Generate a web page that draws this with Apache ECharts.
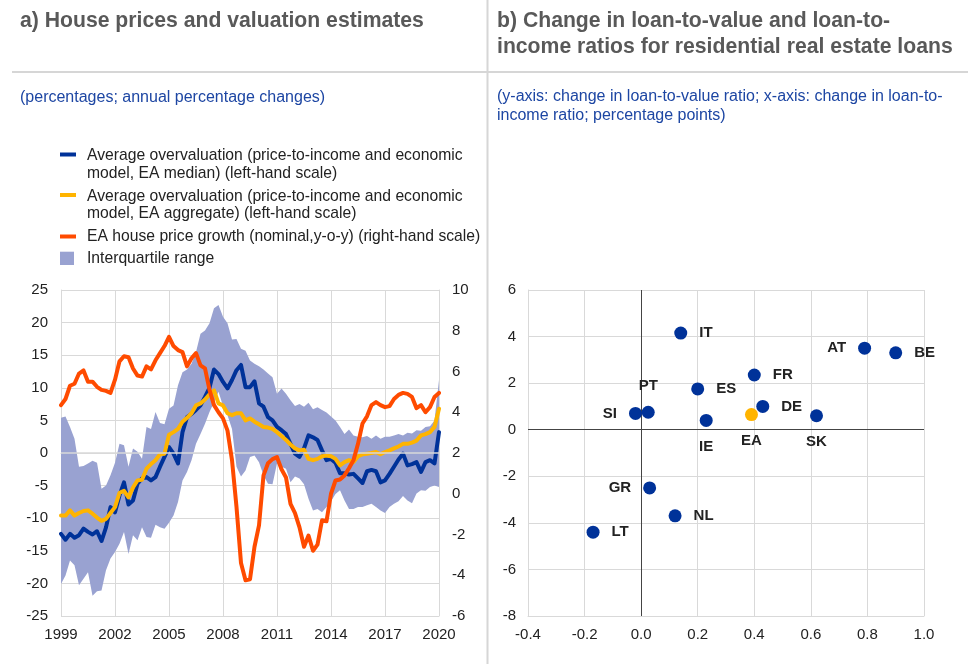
<!DOCTYPE html>
<html>
<head>
<meta charset="utf-8">
<script src="https://cdn.jsdelivr.net/npm/echarts@6/dist/echarts.min.js"></script>
<style>
html,body{margin:0;padding:0;background:#fff;}
#chart{width:968px;height:664px;}
</style>
</head>
<body>
<div id="chart"></div>
<script>
// ---------- Panel a) data (quarterly, 1999Q1 - 2020Q1) ----------
const startYear = 1999, endYear = 2020;
const quarters = [];
for (let y = startYear; y <= endYear; y++) {
  for (let q = 1; q <= 4; q++) {
    if (y === endYear && q > 1) break;
    quarters.push(y + 'Q' + q);
  }
}
const xTickYears = ['1999','2002','2005','2008','2011','2014','2017','2020'];

// Average overvaluation, EA median (left-hand scale)
const medianOverval = [
  -12.4,-13.3,-12.4,-13.0,-12.6,-11.6,-12.1,-12.5,-12.0,-13.5,
  -11.4,-8.3,-9.1,-6.5,-4.5,-7.9,-7.3,-4.7,-3.9,-3.7,
  -4.2,-3.7,-2.1,-0.6,0.9,-0.1,-1.6,3.2,5.5,6.0,
  6.6,7.3,8.6,10.0,12.8,12.1,10.9,9.9,11.2,12.7,
  13.5,10.1,10.1,11.0,7.6,7.1,5.5,5.0,4.0,3.5,
  2.9,1.4,-0.1,-0.6,0.7,2.7,2.4,2.0,0.4,-1.1,
  -0.9,-1.5,-3.1,-3.1,-3.3,-3.2,-3.9,-4.6,-2.8,-2.6,
  -2.8,-4.5,-4.2,-3.2,-2.1,-1.0,-0.1,-1.9,-1.7,-1.4,
  -2.9,-1.4,-1.1,-1.6,3.2
];
// Average overvaluation, EA aggregate (left-hand scale)
const aggregateOverval = [
  -9.6,-9.6,-8.8,-9.6,-9.2,-8.9,-8.8,-9.3,-9.9,-10.4,
  -10.1,-9.2,-8.3,-6.1,-5.8,-6.8,-5.3,-4.2,-4.1,-2.4,
  -1.7,-1.1,-0.2,-0.1,2.8,3.2,3.7,4.8,5.4,6.1,
  7.3,7.6,8.2,9.0,9.6,7.6,7.3,6.1,5.8,6.1,
  6.1,5.0,5.3,4.8,4.4,4.0,3.9,3.7,3.2,2.6,
  2.0,1.3,0.7,0.4,0.5,-0.9,-1.1,-0.9,-0.5,-0.4,
  -0.5,-0.9,-1.9,-1.4,-1.1,-1.4,-0.5,-0.2,-0.1,0.0,
  0.15,-0.2,0.15,0.4,0.7,1.0,1.4,1.4,1.6,1.9,
  2.7,2.9,3.2,4.0,6.8
];
// EA house price growth (nominal, y-o-y) (right-hand scale)
const housePriceGrowth = [
  4.35,4.65,5.3,5.4,5.9,6.05,5.5,5.5,5.25,5.1,
  5.05,4.95,5.6,6.5,6.75,6.7,6.15,5.8,5.75,6.25,
  6.1,6.55,6.9,7.25,7.7,7.25,7.05,6.95,6.25,6.65,
  6.9,6.3,6.15,5.1,4.35,4.0,3.7,3.1,1.65,-0.65,
  -3.4,-4.25,-4.2,-2.6,-1.55,0.9,1.5,1.7,1.8,1.2,
  0.8,-0.5,-0.95,-1.65,-2.6,-2.05,-2.8,-2.5,-1.3,-1.35,
  0.0,0.65,0.7,0.9,1.25,1.65,2.45,3.45,3.8,4.35,
  4.5,4.35,4.25,4.3,4.65,4.85,4.95,4.9,4.75,4.2,
  4.35,4.0,4.25,4.75,4.95
];
// Interquartile range bounds (left-hand scale)
const iqrLower = [
  -20.1,-18.8,-16.5,-17.2,-20.3,-19.3,-18.3,-21.9,-21.2,-21.1,
  -18.0,-16.2,-15.2,-13.9,-12.1,-15.5,-12.6,-13.4,-11.4,-12.9,
  -13.0,-11.0,-11.4,-11.6,-10.7,-9.6,-7.5,-4.2,-2.9,-1.1,
  1.4,2.9,4.5,6.3,7.8,9.4,7.2,5.8,3.7,-2.1,
  -3.6,-2.7,-0.6,-0.4,-1.4,-3.4,-4.7,-4.8,-1.6,-2.1,
  -2.4,-4.5,-3.6,-3.9,-4.8,-7.0,-8.8,-8.6,-9.1,-8.3,
  -7.4,-6.3,-5.7,-7.3,-8.6,-8.6,-8.3,-8.3,-8.0,-7.8,
  -8.3,-8.8,-9.2,-8.3,-7.8,-7.4,-6.6,-7.3,-7.7,-6.2,
  -5.7,-5.8,-5.2,-5.0,-5.2
];
const iqrUpper = [
  5.4,5.6,4.0,2.2,-2.1,-2.0,-1.6,-1.2,-1.5,-5.5,
  -5.0,-3.4,-1.5,1.4,1.2,-2.1,0.7,0.2,-0.9,4.0,
  3.7,6.3,4.6,4.4,6.8,7.3,10.4,12.4,12.8,13.7,
  15.5,18.3,18.8,19.9,22.2,22.7,20.9,19.9,17.4,17.5,
  16.0,15.7,14.2,13.7,13.3,12.8,12.2,11.6,9.1,9.9,
  9.1,8.1,7.2,7.5,7.1,7.7,6.7,7.0,6.6,6.2,
  5.6,5.0,4.0,2.9,3.6,2.7,2.5,2.4,2.6,2.2,
  2.7,2.2,2.5,2.5,2.7,2.9,2.7,3.1,3.0,3.5,
  3.4,4.0,4.1,5.0,11.2
];

// ---------- Panel b) data ----------
const countries = ['IT','AT','BE','FR','ES','PT','SI','IE','DE','EA','SK','GR','NL','LT'];
const ltiChange = [0.14,0.79,0.90,0.40,0.20,0.025,-0.02,0.23,0.43,0.39,0.62,0.03,0.12,-0.17];
const ltvChange = [4.15,3.5,3.3,2.35,1.75,0.75,0.7,0.4,1.0,0.65,0.6,-2.5,-3.7,-4.4];

// ---------- styles ----------
const FONT = "'Liberation Sans', Arial, Helvetica, sans-serif";
const BLUE = '#003299', YELLOW = '#ffb400', ORANGE = '#ff4b00', BAND = '#99a2d1';
const GRID_C = '#d9d9d9', TXT = '#222222', TITLE_C = '#595959', SUB_C = '#1d46a3';
const LEG_FS = 15.7, TITLE_FS = 21.2;
const labelPos = {IT:'right',AT:'left',BE:'right',FR:'right',ES:'right',PT:'top',SI:'left',
  IE:'bottom',DE:'right',EA:'bottom',SK:'bottom',GR:'left',NL:'right',LT:'right'};

const bandDiff = iqrUpper.map((u, i) => +(u - iqrLower[i]).toFixed(2));

const chart = echarts.init(document.getElementById('chart'), null, {renderer: 'canvas'});

const axisLabelStyle = {color: TXT, fontSize: 15, fontFamily: FONT};

const option = {
  animation: false,
  textStyle: {fontFamily: FONT},
  grid: [
    {left: 61, top: 290, width: 378, height: 326},
    {left: 528, top: 290, width: 396, height: 326}
  ],
  xAxis: [
    {
      gridIndex: 0, type: 'category', data: quarters, boundaryGap: false,
      axisLine: {show: true, lineStyle: {color: GRID_C, width: 1}},
      axisTick: {show: false},
      axisLabel: Object.assign({interval: 11, margin: 11,
        formatter: v => v.slice(0, 4)}, axisLabelStyle),
      splitLine: {show: true, interval: 11, lineStyle: {color: GRID_C, width: 1}}
    },
    {
      gridIndex: 1, type: 'value', min: -0.4, max: 1.0, interval: 0.2,
      axisLine: {show: true, onZero: false, lineStyle: {color: GRID_C}},
      axisTick: {show: false},
      axisLabel: Object.assign({margin: 11, formatter: v => v.toFixed(1)}, axisLabelStyle),
      splitLine: {show: true, lineStyle: {color: GRID_C, width: 1}}
    }
  ],
  yAxis: [
    {
      gridIndex: 0, type: 'value', min: -25, max: 25, interval: 5,
      axisLine: {show: true, lineStyle: {color: GRID_C}},
      axisTick: {show: false},
      axisLabel: Object.assign({margin: 13}, axisLabelStyle),
      splitLine: {show: true, lineStyle: {color: GRID_C, width: 1}}
    },
    {
      gridIndex: 0, type: 'value', position: 'right', min: -6, max: 10, interval: 2,
      axisLine: {show: true, lineStyle: {color: GRID_C}},
      axisTick: {show: false},
      axisLabel: Object.assign({margin: 13}, axisLabelStyle),
      splitLine: {show: false}
    },
    {
      gridIndex: 1, type: 'value', min: -8, max: 6, interval: 2,
      axisLine: {show: true, onZero: false, lineStyle: {color: GRID_C}},
      axisTick: {show: false},
      axisLabel: Object.assign({margin: 12}, axisLabelStyle),
      splitLine: {show: true, lineStyle: {color: GRID_C, width: 1}}
    }
  ],
  series: [
    {
      name: 'iqrBase', type: 'line', xAxisIndex: 0, yAxisIndex: 0,
      data: iqrLower, stack: 'iqr', stackStrategy: 'all',
      symbol: 'none', lineStyle: {opacity: 0}, silent: true, z: 1
    },
    {
      name: 'Interquartile range', type: 'line', xAxisIndex: 0, yAxisIndex: 0,
      data: bandDiff, stack: 'iqr', stackStrategy: 'all',
      symbol: 'none', lineStyle: {opacity: 0}, areaStyle: {color: BAND, opacity: 1},
      silent: true, z: 1,
      markLine: {
        silent: true, symbol: 'none', label: {show: false},
        lineStyle: {color: GRID_C, width: 1.5, type: 'solid'},
        data: [{yAxis: 0}]
      }
    },
    {
      name: 'median', type: 'line', xAxisIndex: 0, yAxisIndex: 0,
      data: medianOverval, symbol: 'none', z: 3,
      lineStyle: {color: BLUE, width: 4, join: 'round', cap: 'round'}
    },
    {
      name: 'aggregate', type: 'line', xAxisIndex: 0, yAxisIndex: 0,
      data: aggregateOverval, symbol: 'none', z: 4,
      lineStyle: {color: YELLOW, width: 4, join: 'round', cap: 'round'}
    },
    {
      name: 'hpg', type: 'line', xAxisIndex: 0, yAxisIndex: 1,
      data: housePriceGrowth, symbol: 'none', z: 5,
      lineStyle: {color: ORANGE, width: 4, join: 'round', cap: 'round'}
    },
    {
      name: 'ltv-lti', type: 'scatter', xAxisIndex: 1, yAxisIndex: 2,
      symbolSize: 13, z: 5,
      itemStyle: {color: BLUE, opacity: 1},
      label: {
        show: true, formatter: '{b}', color: TXT, fontSize: 15, fontWeight: 'bold',
        fontFamily: FONT, distance: 12
      },
      data: countries.map((c, i) => ({
        name: c, value: [ltiChange[i], ltvChange[i]],
        itemStyle: c === 'EA' ? {color: YELLOW} : undefined,
        label: {position: labelPos[c]}
      })),
      markLine: {
        silent: true, symbol: 'none', label: {show: false}, z: 2,
        lineStyle: {color: '#444444', width: 1, type: 'solid'},
        data: [{xAxis: 0}, {yAxis: 0}]
      }
    }
  ],
  graphic: [
    // dividers
    {type: 'line', shape: {x1: 12, y1: 72, x2: 968, y2: 72}, style: {stroke: '#d6d6d6', lineWidth: 2}, silent: true},
    {type: 'line', shape: {x1: 487.5, y1: 0, x2: 487.5, y2: 664}, style: {stroke: '#d6d6d6', lineWidth: 2}, silent: true},
    // titles
    {type: 'text', x: 20, y: 8, style: {text: 'a) House prices and valuation estimates',
      fill: TITLE_C, fontSize: TITLE_FS, fontWeight: 'bold', fontFamily: FONT, lineHeight: 26, verticalAlign: 'top'}},
    {type: 'text', x: 497, y: 8, style: {text: 'b) Change in loan-to-value and loan-to-\nincome ratios for residential real estate loans',
      fill: TITLE_C, fontSize: TITLE_FS, fontWeight: 'bold', fontFamily: FONT, lineHeight: 26, verticalAlign: 'top'}},
    // subtitles
    {type: 'text', x: 20, y: 88, style: {text: '(percentages; annual percentage changes)',
      fill: SUB_C, fontSize: 16, fontFamily: FONT, lineHeight: 19.3, verticalAlign: 'top'}},
    {type: 'text', x: 497, y: 87, style: {text: '(y-axis: change in loan-to-value ratio; x-axis: change in loan-to-\nincome ratio; percentage points)',
      fill: SUB_C, fontSize: 16, fontFamily: FONT, lineHeight: 19.3, verticalAlign: 'top'}},
    // legend
    {type: 'rect', shape: {x: 60, y: 152.5, width: 16, height: 4}, style: {fill: BLUE}},
    {type: 'text', x: 87, y: 147.5, style: {text: 'Average overvaluation (price-to-income and economic\nmodel, EA median) (left-hand scale)',
      fill: TXT, fontSize: LEG_FS, fontFamily: FONT, lineHeight: 17.3, verticalAlign: 'top'}},
    {type: 'rect', shape: {x: 60, y: 193, width: 16, height: 4}, style: {fill: YELLOW}},
    {type: 'text', x: 87, y: 188, style: {text: 'Average overvaluation (price-to-income and economic\nmodel, EA aggregate) (left-hand scale)',
      fill: TXT, fontSize: LEG_FS, fontFamily: FONT, lineHeight: 17.3, verticalAlign: 'top'}},
    {type: 'rect', shape: {x: 60, y: 234.5, width: 16, height: 4}, style: {fill: ORANGE}},
    {type: 'text', x: 87, y: 228, style: {text: 'EA house price growth (nominal,y-o-y) (right-hand scale)',
      fill: TXT, fontSize: LEG_FS, fontFamily: FONT, lineHeight: 17.3, verticalAlign: 'top'}},
    {type: 'rect', shape: {x: 60, y: 251.7, width: 14, height: 13.3}, style: {fill: BAND}},
    {type: 'text', x: 87, y: 249.6, style: {text: 'Interquartile range',
      fill: TXT, fontSize: LEG_FS, fontFamily: FONT, lineHeight: 17.3, verticalAlign: 'top'}}
  ]
};
chart.setOption(option);
</script>
</body>
</html>
